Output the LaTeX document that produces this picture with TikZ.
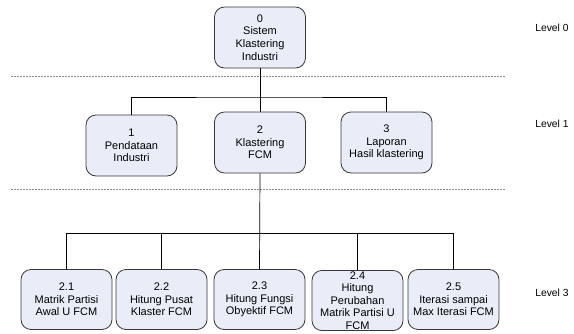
\documentclass[tikz,border=0pt]{standalone}
\usepackage{fontspec}
\setmainfont{Liberation Sans}
\definecolor{boxfill}{HTML}{E8EDF7}
\definecolor{boxline}{HTML}{383838}
\definecolor{sepline}{HTML}{8C8C8C}
\tikzset{
  proc/.style={draw=boxline, fill=boxfill, rounded corners=10pt, line width=0.8pt,
    minimum width=91pt, minimum height=61pt, inner sep=1pt, align=center,
    font=\fontsize{11}{12.6}\selectfont},
  lvl/.style={font=\fontsize{10.3}{12}\selectfont, inner sep=0pt},
  link/.style={draw=black, line width=0.7pt},
  sep/.style={draw=sepline, line width=0.8pt, dash pattern=on 2pt off 1pt}
}
\begin{document}
\begin{tikzpicture}[x=1pt, y=-1pt]
\useasboundingbox (0,0) rectangle (574,333);
% Level 0
\node[proc] (n0) at (260,37.5) {0\\Sistem\\Klastering\\Industri};
% Level 1
\node[proc] (n1) at (131.5,145.5) {1\\Pendataan\\Industri};
\node[proc] (n2) at (260,142.5) {2\\Klastering\\FCM};
\node[proc] (n3) at (386.5,142.5) {3\\Laporan\\Hasil klastering};
% Level 3
\node[proc, minimum height=60pt] (n21) at (66.5,299.5) {2.1\\Matrik Partisi\\Awal U FCM};
\node[proc, minimum height=60pt] (n22) at (161.5,299.5) {2.2\\Hitung Pusat\\Klaster FCM};
\node[proc, minimum height=60pt] (n23) at (259.5,299.5) {2.3\\Hitung Fungsi\\Obyektif FCM};
\node[proc, minimum height=60pt] (n24) at (357.5,300.5) {2.4\\Hitung\\Perubahan\\Matrik Partisi U\\FCM};
\node[proc, minimum height=60pt] (n25) at (453.5,299.5) {2.5\\Iterasi sampai\\Max Iterasi FCM};
% level labels
\node[lvl] (lv0) at (552,28) {Level 0};
\node[lvl] (lv1) at (552,124) {Level 1};
\node[lvl] (lv3) at (552,293) {Level 3};
% separators
\coordinate (s0a) at (11,76);
\coordinate (s0b) at (505,76);
\coordinate (s1a) at (11,189);
\coordinate (s1b) at (505,189);
\draw[sep] (s0a) -- (s0b);
\draw[sep] (s1a) -- (s1b);
% connectors
\coordinate (j1) at (260,97);
\coordinate (j2) at (260,233.5);
\draw[link] (n0.south) -- (n2.north);
\draw[link] (n1.north) |- (j1) -| (n3.north);
\draw[link] (n2.south) -- (n23.north);
\draw[link] (n21.north) |- (j2) -| (n25.north);
\draw[link] (n22.north) -- (n22.north |- j2);
\draw[link] (n24.north) -- (n24.north |- j2);
\end{tikzpicture}
\end{document}
